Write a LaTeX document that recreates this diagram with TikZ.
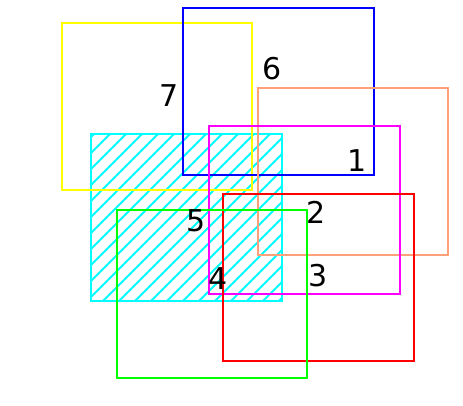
\documentclass[tikz,border=0pt]{standalone}
\usepackage{fontspec}
\setmainfont{DejaVu Sans}

\definecolor{setyellow}{RGB}{255,255,0}
\definecolor{setblue}{RGB}{0,0,255}
\definecolor{setsalmon}{RGB}{255,160,122}
\definecolor{setmagenta}{RGB}{255,0,255}
\definecolor{setred}{RGB}{255,0,0}
\definecolor{setcyan}{RGB}{0,255,255}
\definecolor{setgreen}{RGB}{0,255,0}

\begin{document}
\begin{tikzpicture}[
  x=1pt, y=-1pt,
  every node/.style={inner sep=0pt},
  box/.style={draw, line width=2.2pt},
  hatch/.style={draw=setcyan, line width=1.8pt},
  num/.style={font=\fontsize{30}{31}\selectfont}]

  \useasboundingbox (0,0) rectangle (463,406);

  % the shaded set first, so the others lie on top of it
  \begin{scope}
    \clip (91,134) rectangle (282,301);
    \foreach \k in {-180,-164,...,200}
      \draw[hatch] (91+\k,301) -- ++(200,-200);
  \end{scope}
  \draw[box, setcyan]    (91,134)  rectangle (282,301);

  % the other sets
  \draw[box, setyellow]  (62,23)   rectangle (252,190);
  \draw[box, setblue]    (183,8)   rectangle (374,175);
  \draw[box, setsalmon]  (258,88)  rectangle (448,255);
  \draw[box, setmagenta] (209,126) rectangle (400,294);
  \draw[box, setred]     (223,194) rectangle (414,361);
  \draw[box, setgreen]   (117,210) rectangle (307,378);

  % region numbers
  \node[num] (n7) at (169,96)  {7};
  \node[num] (n6) at (272,69)  {6};
  \node[num] (n1) at (357,161) {1};
  \node[num] (n2) at (316,212) {2};
  \node[num] (n5) at (196,221) {5};
  \node[num] (n4) at (218,279) {4};
  \node[num] (n3) at (318,276) {3};
\end{tikzpicture}
\end{document}
